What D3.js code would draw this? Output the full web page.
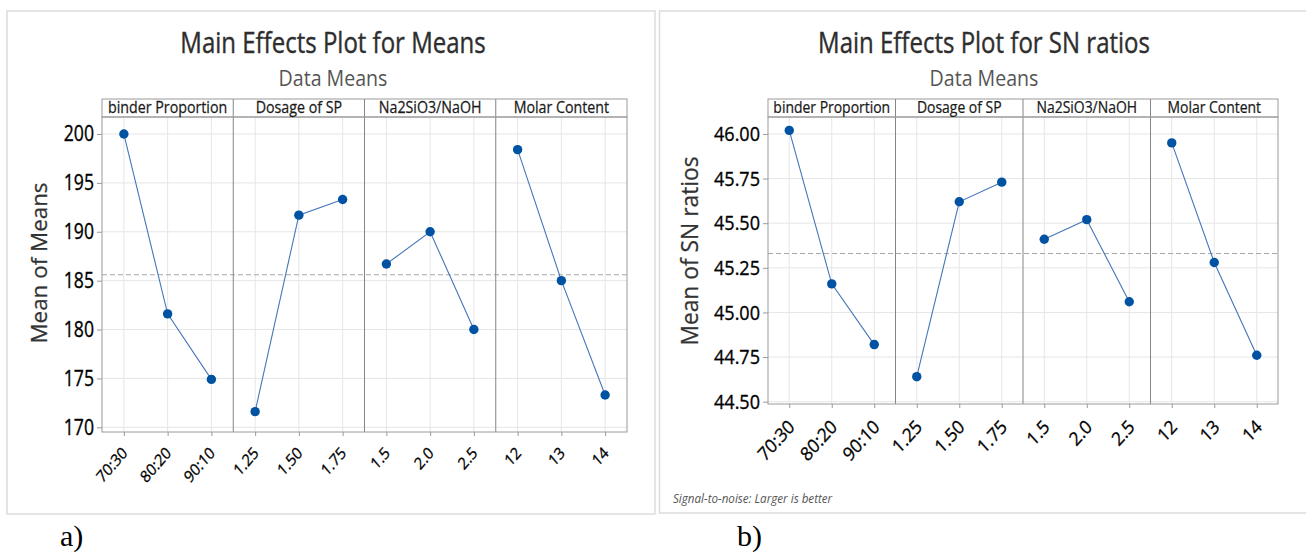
<!DOCTYPE html>
<html>
<head>
<meta charset="utf-8">
<script src="https://cdnjs.cloudflare.com/ajax/libs/d3/7.8.5/d3.min.js"></script>
<style>
  body { margin: 0; background: #fff; }
  svg { display: block; font-family: "Open Sans", sans-serif; }
</style>
</head>
<body>
<div id="container"></div>
<script>
// factors and their levels (same for both plots)
const factors = ["binder Proportion", "Dosage of SP", "Na2SiO3/NaOH", "Molar Content"];
const levels = [
  ["70:30", "80:20", "90:10"],
  ["1.25", "1.50", "1.75"],
  ["1.5", "2.0", "2.5"],
  ["12", "13", "14"]
];

// a) main effects for means
const meanValues = [
  [200.0, 181.6, 174.9],
  [171.6, 191.7, 193.3],
  [186.7, 190.0, 180.0],
  [198.4, 185.0, 173.3]
];
const meanTicks = [170, 175, 180, 185, 190, 195, 200];
const meanGrand = 185.6;

// b) main effects for SN ratios
const snValues = [
  [46.02, 45.16, 44.82],
  [44.64, 45.62, 45.73],
  [45.41, 45.52, 45.06],
  [45.95, 45.28, 44.76]
];
const snTicks = [44.50, 44.75, 45.00, 45.25, 45.50, 45.75, 46.00];
const snGrand = 45.33;

const svg = d3.select("#container")
              .append("svg")
              .attr("width", 1306)
              .attr("height", 555);

function drawPanel(p) {
  const g = svg.append("g");

  // outer frame
  g.append("rect")
   .attr("x", p.frame[0]).attr("y", p.frame[1])
   .attr("width", p.frame[2] - p.frame[0]).attr("height", p.frame[3] - p.frame[1])
   .attr("fill", "none").attr("stroke", "#dcdcdc").attr("stroke-width", 1.5);

  const keys = [];
  factors.forEach((f, i) => levels[i].forEach(l => keys.push(i + "|" + l)));

  const x = d3.scalePoint().domain(keys).range([p.left, p.right]).padding(0.5);
  const fx = d3.scaleBand().domain(factors).range([p.left, p.right]);
  const y = d3.scaleLinear().domain(p.yDomain).range([p.bottom, p.top]);

  // gridlines
  g.append("g").selectAll("line").data(p.ticks).join("line")
   .attr("x1", p.left).attr("x2", p.right)
   .attr("y1", d => y(d)).attr("y2", d => y(d))
   .attr("stroke", "#e6e6e6");
  g.append("g").selectAll("line").data(keys).join("line")
   .attr("x1", d => x(d)).attr("x2", d => x(d))
   .attr("y1", p.top).attr("y2", p.bottom)
   .attr("stroke", "#e6e6e6");

  // grand mean
  g.append("line")
   .attr("x1", p.left).attr("x2", p.right)
   .attr("y1", y(p.grand)).attr("y2", y(p.grand))
   .attr("stroke", "#a8a8a8").attr("stroke-dasharray", "5,3");

  // facet dividers
  g.append("g").selectAll("line").data(factors.slice(1)).join("line")
   .attr("x1", d => fx(d)).attr("x2", d => fx(d))
   .attr("y1", p.stripTop).attr("y2", p.bottom)
   .attr("stroke", "#858585");

  // strip + plot frame
  g.append("rect")
   .attr("x", p.left).attr("y", p.stripTop)
   .attr("width", p.right - p.left).attr("height", p.top - p.stripTop)
   .attr("fill", "none").attr("stroke", "#9a9a9a");
  g.append("rect")
   .attr("x", p.left).attr("y", p.top)
   .attr("width", p.right - p.left).attr("height", p.bottom - p.top)
   .attr("fill", "none").attr("stroke", "#9a9a9a");

  g.append("g").selectAll("text").data(factors).join("text")
   .attr("text-anchor", "middle")
   .attr("font-size", p.stripSize)
   .attr("fill", "#1a1a1a")
   .attr("stroke", "#1a1a1a").attr("stroke-width", 0.25)
   .attr("transform", d => `translate(${fx(d) + fx.bandwidth() / 2},${p.top - 4}) scale(${p.stripSx},1)`)
   .text(d => d);

  // lines and points
  const line = d3.line().x(d => x(d.k)).y(d => y(d.v));
  factors.forEach((f, i) => {
    const pts = levels[i].map((l, j) => ({ k: i + "|" + l, v: p.values[i][j] }));
    g.append("path").datum(pts)
     .attr("d", line)
     .attr("fill", "none")
     .attr("stroke", "#4576ba")
     .attr("stroke-width", 1.1);
    g.append("g").selectAll("circle").data(pts).join("circle")
     .attr("cx", d => x(d.k)).attr("cy", d => y(d.v))
     .attr("r", 4.7)
     .attr("fill", "#0052a3");
  });

  // y axis
  const yg = g.append("g")
              .attr("transform", `translate(${p.left},0)`)
              .call(d3.axisLeft(y).tickValues(p.ticks).tickFormat(p.fmt).tickSize(5).tickSizeOuter(0));
  yg.select(".domain").remove();
  yg.selectAll("line").attr("stroke", "#9a9a9a");
  yg.attr("font-family", null).attr("font-size", null);
  yg.selectAll("text")
    .attr("x", 0)
    .attr("font-size", p.ySize)
    .attr("fill", "#000")
    .attr("stroke", "#000").attr("stroke-width", 0.35)
    .attr("transform", `translate(-8,0) scale(${p.ySx},1)`);

  // x axis
  const xg = g.append("g")
              .attr("transform", `translate(0,${p.bottom})`)
              .call(d3.axisBottom(x).tickFormat(d => d.split("|")[1]).tickSize(4).tickSizeOuter(0));
  xg.select(".domain").remove();
  xg.selectAll("line").attr("stroke", "#9a9a9a");
  xg.attr("font-family", null).attr("font-size", null);
  xg.selectAll("text")
    .attr("x", 0).attr("y", 0).attr("dy", 0)
    .attr("text-anchor", "end")
    .attr("font-size", p.xSize)
    .attr("fill", "#000")
    .attr("stroke", "#000").attr("stroke-width", 0.3)
    .attr("transform", `translate(${p.xOff[0]},${p.xOff[1]}) scale(${p.xSx},1) rotate(-45)`);

  // y label
  g.append("text")
   .attr("text-anchor", "middle")
   .attr("font-size", p.labelSize)
   .attr("fill", "#333")
   .attr("stroke", "#333").attr("stroke-width", 0.25)
   .attr("transform", `translate(${p.labelPos[0]},${p.labelPos[1]}) rotate(-90)`)
   .text(p.yLabel);

  // titles
  g.append("text")
   .attr("text-anchor", "middle")
   .attr("font-size", 30)
   .attr("fill", "#2e2e2e")
   .attr("stroke", "#2e2e2e").attr("stroke-width", 0.4)
   .attr("transform", `translate(${p.titleX},${p.titleY}) scale(0.8,1)`)
   .text(p.title);
  g.append("text")
   .attr("text-anchor", "middle")
   .attr("font-size", 22.5)
   .attr("fill", "#555")
   .attr("transform", `translate(${p.titleX},${p.titleY + 33}) scale(0.87,1)`)
   .text("Data Means");

  // panel letter
  svg.append("text")
     .attr("x", p.letterX).attr("y", 546)
     .attr("font-family", "'Liberation Serif', 'Times New Roman', serif")
     .attr("font-size", 30)
     .attr("fill", "#000")
     .text(p.letter);
}

drawPanel({
  frame: [7, 11, 655, 514],
  left: 102, right: 627, stripTop: 99, top: 117, bottom: 432,
  yDomain: [169.52, 201.74], ticks: meanTicks, fmt: d3.format("d"),
  values: meanValues, grand: meanGrand,
  stripSize: 16, stripSx: 0.89,
  ySize: 21.5, ySx: 0.82,
  xSize: 16.5, xSx: 0.87, xOff: [4, 22],
  labelSize: 22.4, labelPos: [47, 263], yLabel: "Mean of Means",
  title: "Main Effects Plot for Means", titleX: 333, titleY: 53,
  letter: "a)", letterX: 60
});

drawPanel({
  frame: [659.5, 11, 1312, 513],
  left: 768, right: 1278, stripTop: 99, top: 117, bottom: 404,
  yDomain: [44.487, 46.095], ticks: snTicks, fmt: d3.format(".2f"),
  values: snValues, grand: snGrand,
  stripSize: 15.5, stripSx: 0.9,
  ySize: 20.5, ySx: 0.88,
  xSize: 19, xSx: 0.9, xOff: [6, 24],
  labelSize: 22.8, labelPos: [698, 251], yLabel: "Mean of SN ratios",
  title: "Main Effects Plot for SN ratios", titleX: 984, titleY: 53,
  letter: "b)", letterX: 737
});

svg.append("text")
   .attr("font-size", 12.5)
   .attr("font-style", "italic")
   .attr("fill", "#555")
   .attr("transform", "translate(673,503) scale(0.93,1)")
   .text("Signal-to-noise: Larger is better");
</script>
</body>
</html>
